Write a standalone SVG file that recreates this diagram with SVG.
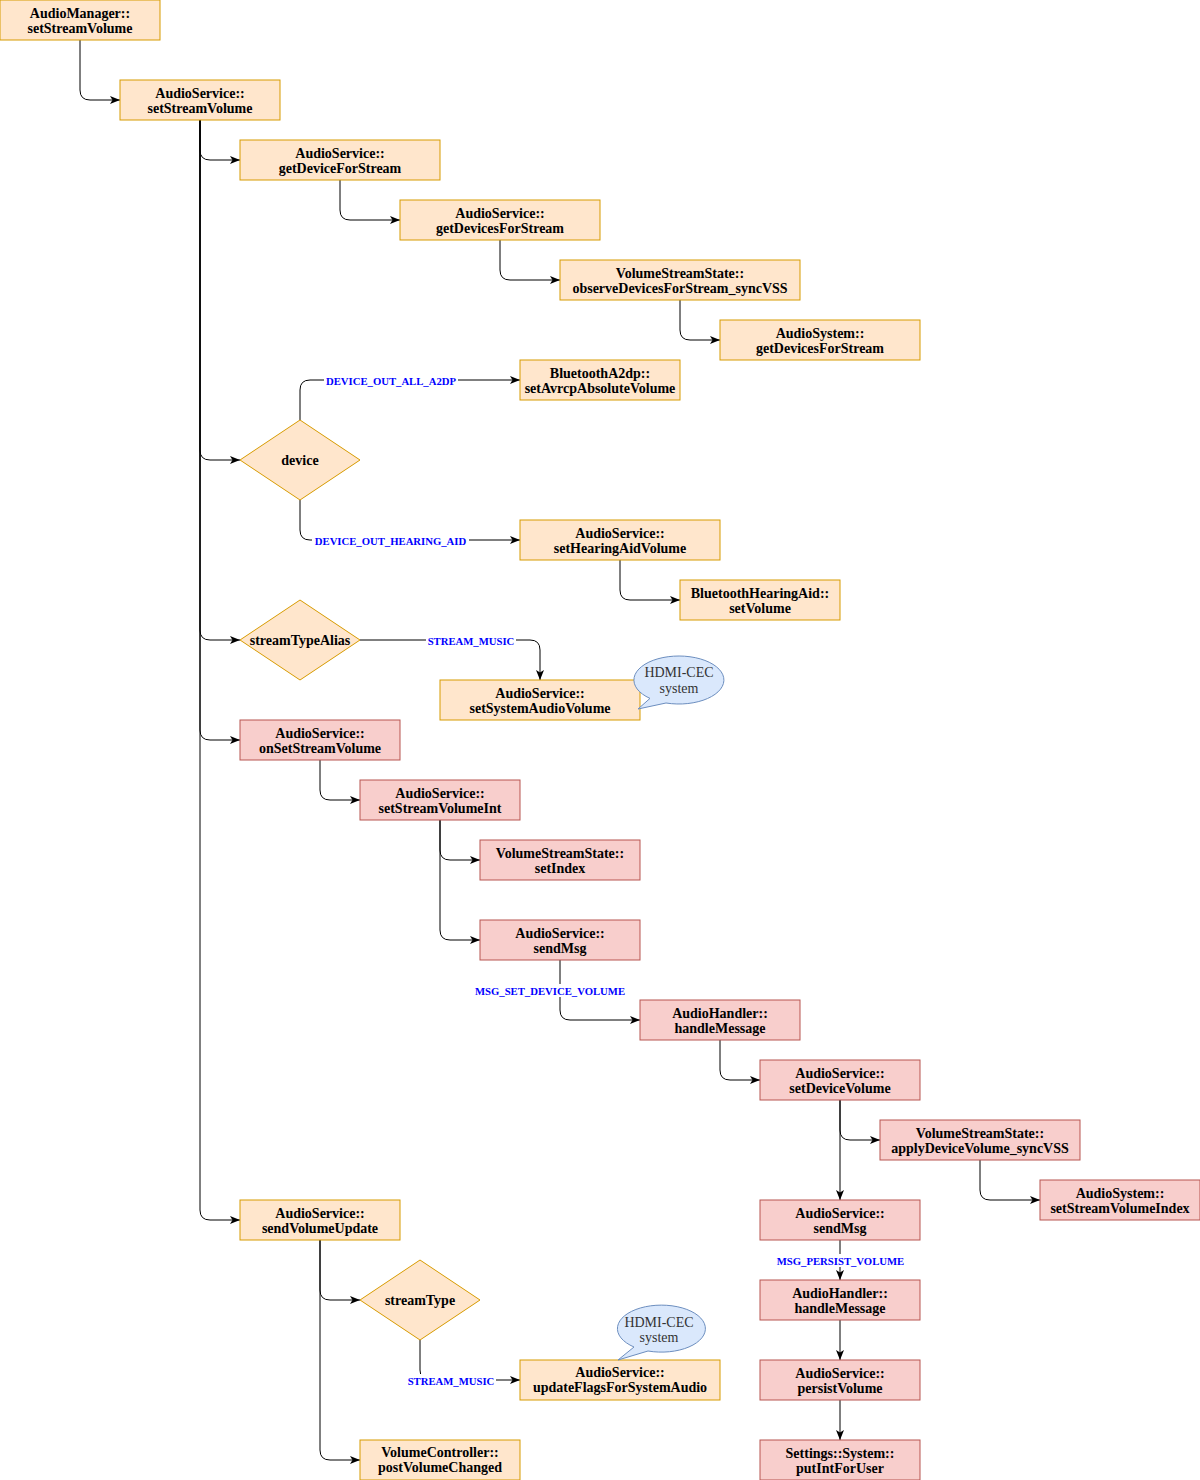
<svg xmlns="http://www.w3.org/2000/svg" width="1200" height="1480" viewBox="0 0 1200 1480">
<style>
.o{fill:#ffe6cc;stroke:#d79b00;stroke-width:1}
.r{fill:#f8cecc;stroke:#b85450;stroke-width:1}
.c{fill:#dae8fc;stroke:#6c8ebf;stroke-width:1}
.t{font-family:"Liberation Serif","Times New Roman",serif;font-weight:bold;font-size:14px;fill:#000;text-anchor:middle}
.ct{font-family:"Liberation Serif","Times New Roman",serif;font-size:14px;fill:#333;text-anchor:middle}
.e{fill:none;stroke:#000;stroke-width:1;marker-end:url(#a)}
.lb{fill:#fff}
.l{font-family:"Liberation Serif","Times New Roman",serif;font-weight:bold;font-size:10.7px;fill:#0000ff;text-anchor:middle}
</style>
<defs>
<marker id="a" markerUnits="userSpaceOnUse" markerWidth="10" markerHeight="8" refX="10" refY="4" orient="auto">
<path d="M0 0 L10 4 L0 8 L2.5 4 Z" fill="#000"/>
</marker>
</defs>
<rect width="1200" height="1480" fill="#fff"/>
<g id="connectors">
<path class="e" d="M80 40 V90 Q80 100 90 100 H120"/>
<path class="e" d="M200 120 V150 Q200 160 210 160 H240"/>
<path class="e" d="M200 120 V450 Q200 460 210 460 H240"/>
<path class="e" d="M200 120 V630 Q200 640 210 640 H240"/>
<path class="e" d="M200 120 V730 Q200 740 210 740 H240"/>
<path class="e" d="M200 120 V1210 Q200 1220 210 1220 H240"/>
<path class="e" d="M340 180 V210 Q340 220 350 220 H400"/>
<path class="e" d="M500 240 V270 Q500 280 510 280 H560"/>
<path class="e" d="M680 300 V330 Q680 340 690 340 H720"/>
<path class="e" d="M300 420 V390 Q300 380 310 380 H520"/>
<path class="e" d="M300 500 V530 Q300 540 310 540 H520"/>
<path class="e" d="M620 560 V590 Q620 600 630 600 H680"/>
<path class="e" d="M360 640 H530 Q540 640 540 650 V680"/>
<path class="e" d="M320 760 V790 Q320 800 330 800 H360"/>
<path class="e" d="M440 820 V850 Q440 860 450 860 H480"/>
<path class="e" d="M440 820 V930 Q440 940 450 940 H480"/>
<path class="e" d="M560 960 V1010 Q560 1020 570 1020 H640"/>
<path class="e" d="M720 1040 V1070 Q720 1080 730 1080 H760"/>
<path class="e" d="M840 1100 V1130 Q840 1140 850 1140 H880"/>
<path class="e" d="M840 1100 V1200"/>
<path class="e" d="M980 1160 V1190 Q980 1200 990 1200 H1040"/>
<path class="e" d="M840 1240 V1280"/>
<path class="e" d="M840 1320 V1360"/>
<path class="e" d="M840 1400 V1440"/>
<path class="e" d="M320 1240 V1290 Q320 1300 330 1300 H360"/>
<path class="e" d="M320 1240 V1450 Q320 1460 330 1460 H360"/>
<path class="e" d="M420 1340 V1370 Q420 1380 430 1380 H520"/>
<rect class="lb" x="324" y="374" width="134" height="13"/>
<text class="l" x="391" y="385">DEVICE_OUT_ALL_A2DP</text>
<rect class="lb" x="312" y="534" width="157" height="13"/>
<text class="l" x="390.5" y="545">DEVICE_OUT_HEARING_AID</text>
<rect class="lb" x="426" y="634" width="90" height="13"/>
<text class="l" x="471" y="645">STREAM_MUSIC</text>
<rect class="lb" x="472" y="984" width="157" height="13"/>
<text class="l" x="550" y="995">MSG_SET_DEVICE_VOLUME</text>
<rect class="lb" x="774" y="1254" width="133" height="13"/>
<text class="l" x="840.5" y="1265">MSG_PERSIST_VOLUME</text>
<rect class="lb" x="406" y="1374" width="90" height="13"/>
<text class="l" x="451" y="1385">STREAM_MUSIC</text>
</g>
<g id="n1"><rect class="o" x="0" y="0" width="160" height="40"/><text class="t" x="80" y="17.5">AudioManager::</text><text class="t" x="80" y="32.5">setStreamVolume</text></g>
<g id="n2"><rect class="o" x="120" y="80" width="160" height="40"/><text class="t" x="200" y="97.5">AudioService::</text><text class="t" x="200" y="112.5">setStreamVolume</text></g>
<g id="n3"><rect class="o" x="240" y="140" width="200" height="40"/><text class="t" x="340" y="157.5">AudioService::</text><text class="t" x="340" y="172.5">getDeviceForStream</text></g>
<g id="n4"><rect class="o" x="400" y="200" width="200" height="40"/><text class="t" x="500" y="217.5">AudioService::</text><text class="t" x="500" y="232.5">getDevicesForStream</text></g>
<g id="n5"><rect class="o" x="560" y="260" width="240" height="40"/><text class="t" x="680" y="277.5">VolumeStreamState::</text><text class="t" x="680" y="292.5">observeDevicesForStream_syncVSS</text></g>
<g id="n6"><rect class="o" x="720" y="320" width="200" height="40"/><text class="t" x="820" y="337.5">AudioSystem::</text><text class="t" x="820" y="352.5">getDevicesForStream</text></g>
<g id="n7"><rect class="o" x="520" y="360" width="160" height="40"/><text class="t" x="600" y="377.5">BluetoothA2dp::</text><text class="t" x="600" y="392.5">setAvrcpAbsoluteVolume</text></g>
<g id="n8"><path class="o" d="M300 420 L360 460 L300 500 L240 460 Z"/><text class="t" x="300" y="465">device</text></g>
<g id="n9"><rect class="o" x="520" y="520" width="200" height="40"/><text class="t" x="620" y="537.5">AudioService::</text><text class="t" x="620" y="552.5">setHearingAidVolume</text></g>
<g id="n10"><rect class="o" x="680" y="580" width="160" height="40"/><text class="t" x="760" y="597.5">BluetoothHearingAid::</text><text class="t" x="760" y="612.5">setVolume</text></g>
<g id="n11"><path class="o" d="M300 600 L360 640 L300 680 L240 640 Z"/><text class="t" x="300" y="645">streamTypeAlias</text></g>
<g id="n12"><rect class="o" x="440" y="680" width="200" height="40"/><text class="t" x="540" y="697.5">AudioService::</text><text class="t" x="540" y="712.5">setSystemAudioVolume</text></g>
<g id="n13"><path class="c" d="M666 703 A45 24 0 1 0 650 698.4 L638 709 Z"/><text class="ct" x="679" y="677">HDMI-CEC</text><text class="ct" x="679" y="693">system</text></g>
<g id="n14"><rect class="r" x="240" y="720" width="160" height="40"/><text class="t" x="320" y="737.5">AudioService::</text><text class="t" x="320" y="752.5">onSetStreamVolume</text></g>
<g id="n15"><rect class="r" x="360" y="780" width="160" height="40"/><text class="t" x="440" y="797.5">AudioService::</text><text class="t" x="440" y="812.5">setStreamVolumeInt</text></g>
<g id="n16"><rect class="r" x="480" y="840" width="160" height="40"/><text class="t" x="560" y="857.5">VolumeStreamState::</text><text class="t" x="560" y="872.5">setIndex</text></g>
<g id="n17"><rect class="r" x="480" y="920" width="160" height="40"/><text class="t" x="560" y="937.5">AudioService::</text><text class="t" x="560" y="952.5">sendMsg</text></g>
<g id="n18"><rect class="r" x="640" y="1000" width="160" height="40"/><text class="t" x="720" y="1017.5">AudioHandler::</text><text class="t" x="720" y="1032.5">handleMessage</text></g>
<g id="n19"><rect class="r" x="760" y="1060" width="160" height="40"/><text class="t" x="840" y="1077.5">AudioService::</text><text class="t" x="840" y="1092.5">setDeviceVolume</text></g>
<g id="n20"><rect class="r" x="880" y="1120" width="200" height="40"/><text class="t" x="980" y="1137.5">VolumeStreamState::</text><text class="t" x="980" y="1152.5">applyDeviceVolume_syncVSS</text></g>
<g id="n21"><rect class="r" x="1040" y="1180" width="160" height="40"/><text class="t" x="1120" y="1197.5">AudioSystem::</text><text class="t" x="1120" y="1212.5">setStreamVolumeIndex</text></g>
<g id="n22"><rect class="r" x="760" y="1200" width="160" height="40"/><text class="t" x="840" y="1217.5">AudioService::</text><text class="t" x="840" y="1232.5">sendMsg</text></g>
<g id="n23"><rect class="r" x="760" y="1280" width="160" height="40"/><text class="t" x="840" y="1297.5">AudioHandler::</text><text class="t" x="840" y="1312.5">handleMessage</text></g>
<g id="n24"><rect class="r" x="760" y="1360" width="160" height="40"/><text class="t" x="840" y="1377.5">AudioService::</text><text class="t" x="840" y="1392.5">persistVolume</text></g>
<g id="n25"><rect class="r" x="760" y="1440" width="160" height="40"/><text class="t" x="840" y="1457.5">Settings::System::</text><text class="t" x="840" y="1472.5">putIntForUser</text></g>
<g id="n26"><rect class="o" x="240" y="1200" width="160" height="40"/><text class="t" x="320" y="1217.5">AudioService::</text><text class="t" x="320" y="1232.5">sendVolumeUpdate</text></g>
<g id="n27"><path class="o" d="M420 1260 L480 1300 L420 1340 L360 1300 Z"/><text class="t" x="420" y="1305">streamType</text></g>
<g id="n28"><rect class="o" x="520" y="1360" width="200" height="40"/><text class="t" x="620" y="1377">AudioService::</text><text class="t" x="620" y="1392">updateFlagsForSystemAudio</text></g>
<g id="n29"><path class="c" d="M648 1351 A44 23.5 0 1 0 634 1347 L618 1360 Z"/><text class="ct" x="659" y="1327">HDMI-CEC</text><text class="ct" x="659" y="1342">system</text></g>
<g id="n30"><rect class="o" x="360" y="1440" width="160" height="40"/><text class="t" x="440" y="1457">VolumeController::</text><text class="t" x="440" y="1472">postVolumeChanged</text></g>
</svg>
